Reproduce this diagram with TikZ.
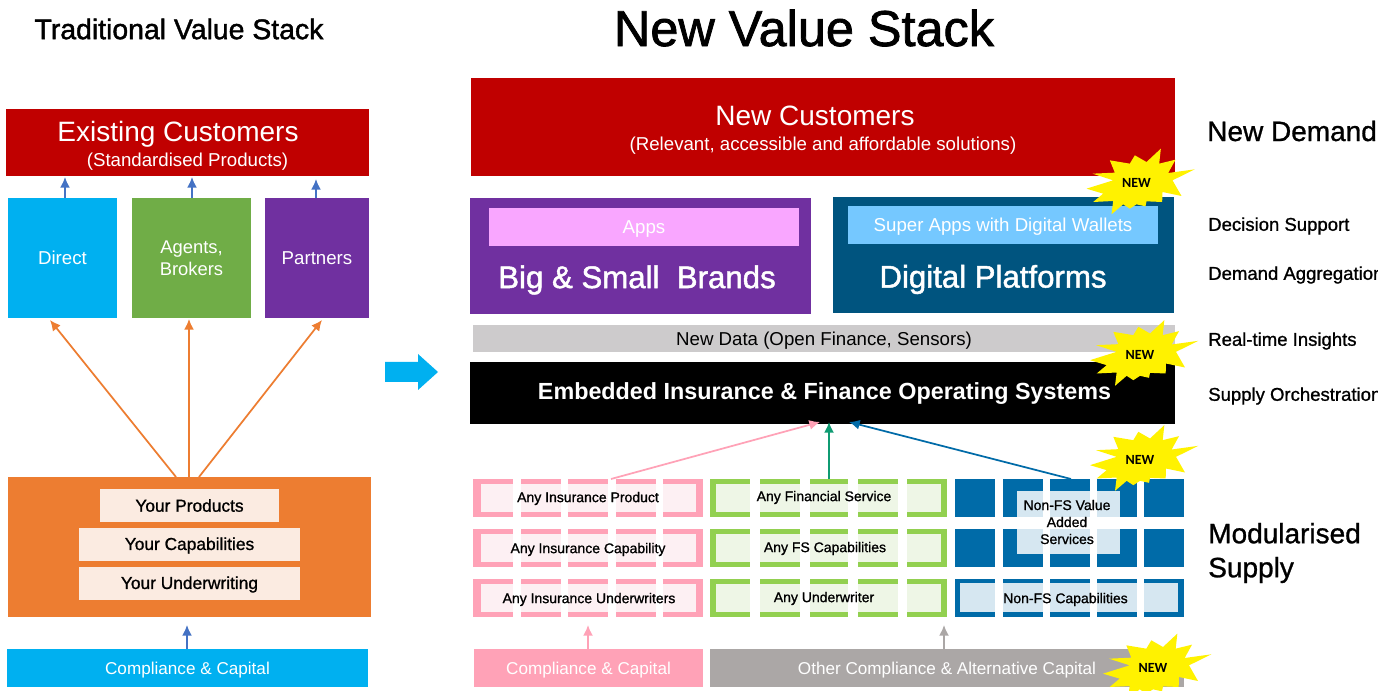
\documentclass[tikz,border=0pt]{standalone}
\usepackage{fontspec}
\usetikzlibrary{arrows.meta}
\setmainfont{Liberation Sans}
\newfontfamily\hv[FakeBold=1]{Liberation Sans}
\newfontfamily\hvb[FakeBold=1.5]{Liberation Sans}
\newfontfamily\burstfont{Carlito}
\definecolor{cRed}{HTML}{C00000}
\definecolor{cCyan}{HTML}{00B0F0}
\definecolor{cGreen}{HTML}{70AD47}
\definecolor{cPurple}{HTML}{7030A0}
\definecolor{cOrange}{HTML}{ED7D31}
\definecolor{cCream}{HTML}{FBEBE1}
\definecolor{cApps}{HTML}{F9A6FF}
\definecolor{cNavy}{HTML}{00547F}
\definecolor{cSky}{HTML}{75C8FF}
\definecolor{cGrey}{HTML}{CDCBCC}
\definecolor{cPink}{HTML}{FFA2B7}
\definecolor{cPinkL}{HTML}{FDF0F3}
\definecolor{cLime}{HTML}{92D050}
\definecolor{cLimeL}{HTML}{EEF6E6}
\definecolor{cBlue}{HTML}{006BA8}
\definecolor{cBlueL}{HTML}{D6E7F1}
\definecolor{cStone}{HTML}{ABA7A6}
\definecolor{cArrow}{HTML}{4472C4}
\definecolor{cTeal}{HTML}{0F9B72}
\tikzset{
  x=0.75pt,y=-0.75pt,
  bxs/.style={inner sep=0pt,outer sep=0pt},
  txt/.style={inner sep=0pt,outer sep=0pt,align=center,text=white},
  dk/.style={text=black,font=\hv\fontsize{13}{16}\selectfont},
  wl/.style={font=\fontsize{14}{18}\selectfont},
  wc/.style={font=\fontsize{12.85}{16}\selectfont},
  wbig/.style={txt,font=\hvb\fontsize{23.4}{27}\selectfont},
  wmain/.style={txt,font=\fontsize{21}{25}\selectfont},
  wsub/.style={txt,font=\fontsize{14}{16}\selectfont},
  arw/.style={line width=1.3pt,-{Latex[length=8pt,width=7.5pt]}},
  side/.style={inner sep=0pt,anchor=west,text=black},
  sideS/.style={side,font=\hv\fontsize{13.9}{16}\selectfont},
  sideL/.style={side,font=\hv\fontsize{21}{25}\selectfont},
  ml/.style={inner sep=0pt,text=black,font=\hv\fontsize{10.5}{12.75}\selectfont,align=center},
}
% name, x0,y0,x1,y1, fill style, text style, text (text sits 2px below the centre of the box)
\newcommand\bx[8]{%
  \pgfmathsetmacro\cxx{(#2+#4)/2}\pgfmathsetmacro\cyy{(#3+#5)/2}\pgfmathsetmacro\cyt{(#3+#5)/2+2}%
  \pgfmathsetmacro\ww{(#4-#2)*0.75}\pgfmathsetmacro\hh{(#5-#3)*0.75}%
  \node[bxs,minimum width=\ww pt,minimum height=\hh pt,#6] (#1) at (\cxx,\cyy) {};
  \node[txt,#7] (#1t) at (\cxx,\cyt) {#8};}
\newcommand\burst[4]{%
  \begin{scope}[shift={(#2,#3)},scale=#4]
  \fill[yellow] (483-410,55-158) -- (478-410,100-158) -- (527-410,88-158) -- (505-410,128-158) -- (585-410,117-158) -- (518-410,150-158) -- (545-410,197-158) -- (488-410,185-158) -- (487-410,215-158) -- (440-410,213-158) -- (437-410,228-158) -- (410-410,222-158) -- (390-410,235-158) -- (370-410,222-158) -- (335-410,252-158) -- (340-410,212-158) -- (280-410,215-158) -- (310-410,190-158) -- (260-410,175-158) -- (340-410,150-158) -- (278-410,130-158) -- (345-410,127-158) -- (330-410,90-158) -- (390-410,100-158) -- (405-410,75-158) -- (440-410,95-158) -- cycle;
  \end{scope}
  \node[inner sep=0pt,text=black,font=\burstfont\bfseries\fontsize{10.5}{12}\selectfont] (#1) at (#2,#3) {NEW};}
\begin{document}
\begin{tikzpicture}
\useasboundingbox (0,0) rectangle (1396,691);
\fill[white] (0,0) rectangle (1396,691);
% titles
\node[inner sep=0pt,font=\hvb\fontsize{21.3}{25}\selectfont] (t1) at (179,29) {Traditional Value Stack};
\node[inner sep=0pt,font=\hvb\fontsize{37.8}{42}\selectfont] (t2) at (804,28) {New Value Stack};
% left stack
\bx{ec}{6}{109}{369}{176}{fill=cRed}{}{}
\node[wmain] (ecA) at (178,134) {Existing Customers};
\node[wsub] (ecB) at (187.5,162) {(Standardised Products)};
\bx{direct}{8}{198}{117}{318}{fill=cCyan}{wl,yshift=1.5pt}{Direct}
\bx{agents}{132}{198}{251}{318}{fill=cGreen}{font=\fontsize{13.8}{16.5}\selectfont,yshift=1.5pt}{Agents,\\Brokers}
\bx{partners}{265}{198}{369}{318}{fill=cPurple}{wl,yshift=1.5pt}{Partners}
\bx{orange}{8}{477}{371}{617}{fill=cOrange}{}{}
\bx{yp}{100}{489}{279}{522}{fill=cCream}{dk,yshift=1.5pt}{Your Products}
\bx{yc}{79}{528}{300}{561}{fill=cCream}{dk,yshift=0.75pt}{Your Capabilities}
\bx{yu}{79}{567}{300}{600}{fill=cCream}{dk,yshift=0.75pt}{Your Underwriting}
\bx{cc}{7}{649}{368}{687}{fill=cCyan}{wc}{Compliance \& Capital}
\coordinate (oa) at (176,477); \coordinate (ob) at (189,477); \coordinate (oc) at (199,477);
\coordinate (da) at (50,320); \coordinate (db) at (189,319); \coordinate (dc) at (322,320);
\draw[arw,draw=cOrange] (oa) -- (da);
\draw[arw,draw=cOrange] (ob) -- (db);
\draw[arw,draw=cOrange] (oc) -- (dc);
\coordinate (ua) at (65,177); \coordinate (ub) at (192,177); \coordinate (uc) at (316,179);
\coordinate (sa) at (65,198); \coordinate (sb) at (192,198); \coordinate (sc) at (316,198);
\draw[arw,draw=cArrow] (sa) -- (ua);
\draw[arw,draw=cArrow] (sb) -- (ub);
\draw[arw,draw=cArrow] (sc) -- (uc);
\coordinate (ccs) at (187,649); \coordinate (cce) at (187,625);
\draw[arw,draw=cArrow] (ccs) -- (cce);
% big arrow
\fill[cCyan] (385,362) -- (418,362) -- (418,354) -- (438,372) -- (418,390) -- (418,382) -- (385,382) -- cycle;
% right stack
\bx{nc}{471}{78}{1175}{176}{fill=cRed}{}{}
\node[wmain] (ncA) at (815,116) {New Customers};
\node[wsub] (ncB) at (823,145.5) {(Relevant, accessible and affordable solutions)};
\bx{bs}{470}{198}{811}{314}{fill=cPurple}{}{}
\bx{apps}{489}{208}{799}{246}{fill=cApps}{wl}{Apps}
\node[wbig] (bsl) at (637,280) {Big \& Small\ \ Brands};
\bx{dp}{833}{197}{1174}{313}{fill=cNavy}{}{}
\bx{sa2}{848}{206}{1158}{244}{fill=cSky}{wl}{Super Apps with Digital Wallets}
\node[wbig] (dpl) at (993,279.5) {Digital Platforms};
\bx{nd}{473}{325}{1175}{352}{fill=cGrey}{text=black,wl}{New Data (Open Finance, Sensors)}
\bx{os}{470}{362}{1175}{424}{fill=black}{}{}
\node[txt,font=\bfseries\fontsize{17.5}{20}\selectfont] (ost) at (824.5,394) {Embedded Insurance \& Finance Operating Systems};
% modules
\foreach \ya/\yb in {479/517,529/567,579/617}{
  \pgfmathsetmacro\yc{\ya+5}\pgfmathsetmacro\yd{\yb-5}
  \fill[cPink] (473,\ya) rectangle (703,\yb);
  \fill[cPinkL] (481,\yc) rectangle (696,\yd);
  \fill[white] (513,\ya) rectangle (521,\yb);
  \fill[white] (561,\ya) rectangle (568,\yb);
  \fill[white] (608,\ya) rectangle (616,\yb);
  \fill[white] (656,\ya) rectangle (663,\yb);
  \fill[cLime] (710,\ya) rectangle (947,\yb);
  \fill[cLimeL] (716,\yc) rectangle (941,\yd);
  \fill[white] (750,\ya) rectangle (760,\yb);
  \fill[white] (800,\ya) rectangle (810,\yb);
  \fill[white] (848,\ya) rectangle (858,\yb);
  \fill[white] (898,\ya) rectangle (907,\yb);
  \fill[cBlue] (955,\ya) rectangle (1184,\yb);
}
\fill[cBlueL] (960,583) rectangle (1178,612);
\fill[cBlueL] (1017,491) rectangle (1120,554);
\fill[white] (955,517) rectangle (1184,529);
\foreach \ya/\yb in {479/517,529/567,579/617}{
  \fill[white] (995,\ya) rectangle (1003,\yb);
  \fill[white] (1043,\ya) rectangle (1050,\yb);
  \fill[white] (1090,\ya) rectangle (1097,\yb);
  \fill[white] (1137,\ya) rectangle (1144,\yb);
}
\node[ml] (m11) at (588,498.5) {Any Insurance Product};
\node[ml] (m12) at (588,549.5) {Any Insurance Capability};
\node[ml] (m13) at (589,599.5) {Any Insurance Underwriters};
\node[ml] (m21) at (824,497.5) {Any Financial Service};
\node[ml] (m22) at (825,548.5) {Any FS Capabilities};
\node[ml] (m23) at (824,598.5) {Any Underwriter};
\node[ml] (m31) at (1067,522) {Non-FS Value\\Added\\Services};
\node[ml] (m33) at (1065.5,599.5) {Non-FS Capabilities};
\bx{cp}{474}{649}{703}{687}{fill=cPink}{wc}{Compliance \& Capital}
\bx{oc2}{710}{649}{1184}{687}{fill=cStone}{wc}{Other Compliance \& Alternative Capital}
% connectors
\coordinate (pS) at (611,479); \coordinate (gS) at (829,479); \coordinate (bS) at (1071,479);
\coordinate (pE) at (820,422); \coordinate (gE) at (829,422); \coordinate (bE) at (849,422);
\draw[arw,draw=cPink] (pS) -- (pE);
\draw[arw,draw=cTeal] (gS) -- (gE);
\draw[arw,draw=cBlue] (bS) -- (bE);
\coordinate (p2S) at (588,649); \coordinate (p2E) at (588,625);
\coordinate (g2S) at (944,649); \coordinate (g2E) at (944,625);
\draw[arw,draw=cPink] (p2S) -- (p2E);
\draw[arw,draw=cStone] (g2S) -- (g2E);
% bursts
\burst{b1}{1136.5}{183}{0.3333}
\burst{b2}{1140}{354.5}{0.3333}
\burst{b3}{1140}{459.5}{0.3333}
\burst{b4}{1153}{668}{0.3333}
% right labels
\node[sideL] (r1) at (1207,131) {New Demand};
\node[sideS] (r2) at (1208,226) {Decision Support};
\node[sideS] (r3) at (1208,275) {Demand Aggregation};
\node[sideS] (r4) at (1208,341) {Real-time Insights};
\node[sideS] (r5) at (1208,396) {Supply Orchestration};
\node[sideL,align=left,font=\hv\fontsize{21}{25.5}\selectfont] (r6) at (1208,553) {Modularised\\Supply};
\fill[white] (1378,0) rectangle (1396,691);
\end{tikzpicture}
\end{document}
